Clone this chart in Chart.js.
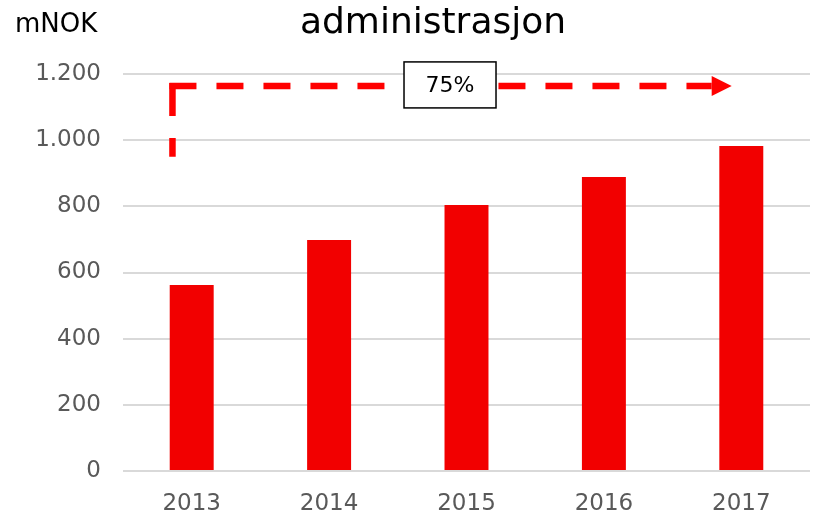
<!DOCTYPE html>
<html>
<head>
<meta charset="utf-8">
<script src="https://cdn.jsdelivr.net/npm/chart.js@4/dist/chart.umd.min.js"></script>
<style>
  html, body { margin: 0; padding: 0; background: #fff; }
  #wrap { width: 814px; height: 515px; }
</style>
</head>
<body>
<div id="wrap"><canvas id="adminChart" width="814" height="515"></canvas></div>
<script>
// chart data
const years = ['2013', '2014', '2015', '2016', '2017'];
const costs = [562, 698, 804, 889, 982];
const yTicks = [0, 200, 400, 600, 800, 1000, 1200];

// growth arrow annotation (in data units)
const growthLabel = '75%';
const arrowStart = { x: -0.14, y: 950 };
const arrowCorner = { x: -0.14, y: 1164 };
const arrowEnd = { x: 3.93, y: 1164 };
const labelPos = { x: 1.88, y: 1167 };

const FONT = '"DejaVu Sans", Verdana, sans-serif';

// Norwegian thousands separator
function fmt(v) {
    return String(v).replace(/\B(?=(\d{3})+(?!\d))/g, '.');
}

const headerPlugin = {
    id: 'header',
    afterDraw(chart) {
        const ctx = chart.ctx;
        ctx.save();
        ctx.fillStyle = '#000';
        ctx.textBaseline = 'alphabetic';
        ctx.font = '26px ' + FONT;
        ctx.textAlign = 'left';
        ctx.fillText('mNOK', 15, 32);
        ctx.font = '36px ' + FONT;
        ctx.textAlign = 'center';
        ctx.fillText('administrasjon', 433, 33);
        ctx.restore();
    }
};

const arrowPlugin = {
    id: 'growthArrow',
    afterDatasetsDraw(chart) {
        const { ctx, scales: { x, y } } = chart;
        const sx = x.getPixelForValue(arrowStart.x), sy = y.getPixelForValue(arrowStart.y);
        const cx = x.getPixelForValue(arrowCorner.x), cy = y.getPixelForValue(arrowCorner.y);
        const ex = x.getPixelForValue(arrowEnd.x), ey = y.getPixelForValue(arrowEnd.y);
        const head = 20;

        ctx.save();
        ctx.strokeStyle = '#ff0000';
        ctx.lineWidth = 6.5;
        ctx.lineCap = 'butt';
        // vertical leg, dashed from the corner downwards
        ctx.setLineDash([33, 22]);
        ctx.beginPath();
        ctx.moveTo(cx, cy - 3);
        ctx.lineTo(sx, sy);
        ctx.stroke();
        // horizontal leg
        ctx.setLineDash([27, 20]);
        ctx.beginPath();
        ctx.moveTo(cx - 3, cy);
        ctx.lineTo(ex - head, ey);
        ctx.stroke();
        ctx.setLineDash([]);
        ctx.fillStyle = '#ff0000';
        ctx.beginPath();
        ctx.moveTo(ex, ey);
        ctx.lineTo(ex - head, ey - 10);
        ctx.lineTo(ex - head, ey + 10);
        ctx.closePath();
        ctx.fill();

        // label box
        const lx = x.getPixelForValue(labelPos.x), ly = y.getPixelForValue(labelPos.y);
        const w = 92, h = 46;
        ctx.fillStyle = '#fff';
        ctx.fillRect(lx - w / 2, ly - h / 2, w, h);
        ctx.strokeStyle = '#000';
        ctx.lineWidth = 1.5;
        ctx.strokeRect(lx - w / 2, ly - h / 2, w, h);
        ctx.fillStyle = '#000';
        ctx.font = '22px ' + FONT;
        ctx.textAlign = 'center';
        ctx.textBaseline = 'middle';
        ctx.fillText(growthLabel, lx, ly + 1);
        ctx.restore();
    }
};

new Chart(document.getElementById('adminChart'), {
    type: 'bar',
    data: {
        labels: years,
        datasets: [{
            data: costs,
            backgroundColor: '#f20000',
            borderWidth: 0,
            categoryPercentage: 1,
            barPercentage: 0.32
        }]
    },
    options: {
        responsive: false,
        animation: false,
        layout: { padding: { top: 74, right: 4, left: 0, bottom: 0 } },
        plugins: { legend: { display: false }, tooltip: { enabled: false }, title: { display: false } },
        scales: {
            x: {
                grid: { display: false },
                border: { display: false },
                ticks: { color: '#595959', font: { family: FONT, size: 23 }, padding: 11 },
                afterFit(s) { s.height = 44; }
            },
            y: {
                min: 0,
                max: 1200,
                afterBuildTicks(s) { s.ticks = yTicks.map(v => ({ value: v })); },
                grid: { color: '#d9d9d9', lineWidth: 2, drawTicks: false },
                border: { display: false },
                ticks: {
                    color: '#595959',
                    font: { family: FONT, size: 23 },
                    padding: 22,
                    callback: v => fmt(v)
                },
                afterFit(s) { s.width = 123; }
            }
        }
    },
    plugins: [headerPlugin, arrowPlugin]
});
</script>
</body>
</html>
